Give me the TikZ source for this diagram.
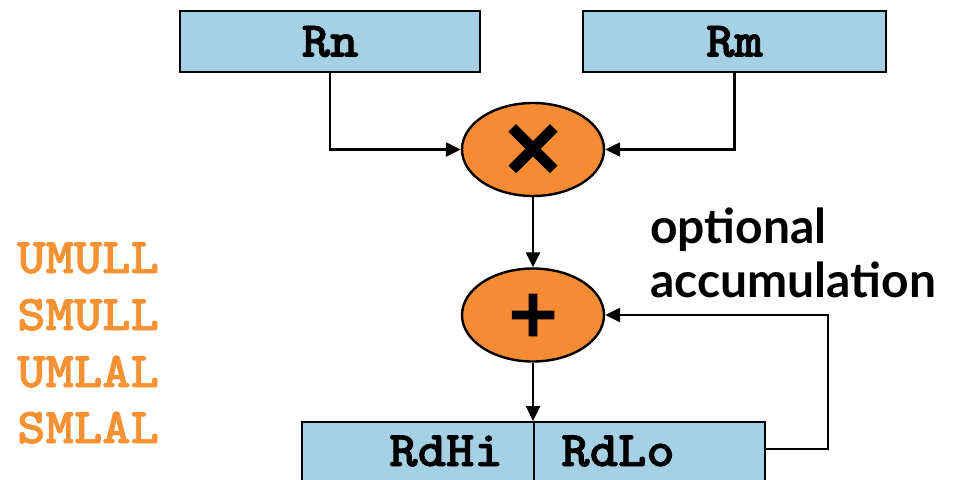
\documentclass[tikz,border=0pt]{standalone}
\usepackage{fontspec}
\setmainfont{Lato}
\newfontfamily\symbfont[FakeBold=1.8]{DejaVu Sans Bold}
\newfontfamily\regfnt[FakeBold=1.6,FakeStretch=1.08]{lmmonolt10-bold.otf}
\usetikzlibrary{arrows.meta,shapes.geometric}
\definecolor{regblue}{HTML}{A6D0E3}
\definecolor{opfill}{HTML}{F58C33}
\definecolor{insn}{HTML}{F79234}
\newcommand{\regfont}{\regfnt\fontsize{50}{50}\selectfont}
\tikzset{
  reg/.style={draw=black, line width=2.4pt, fill=regblue, inner sep=0pt,
    font=\regfont},
  op/.style={ellipse, draw=black, line width=2.4pt, fill=opfill, inner sep=0pt,
    minimum width=142pt, minimum height=93pt},
  flow/.style={draw=black, line width=2.4pt, -{Triangle[length=15pt,width=14pt]}},
  insnlbl/.style={anchor=base west, text=insn, inner sep=0pt, font=\regfont},
  reglbl/.style={anchor=base, inner sep=0pt, font=\regfont},
}
\begin{document}
\begin{tikzpicture}[x=1pt,y=-1pt]
\useasboundingbox (0,0) rectangle (955,479);
\begin{scope}
\clip (0,0) rectangle (955,479);

% source registers
\node[reg, minimum width=300pt, minimum height=61pt] (rn) at (330,41.5) {Rn};
\node[reg, minimum width=303pt, minimum height=61pt] (rm) at (734.5,41.5) {Rm};

% multiply and accumulate units
\node[op] (mul) at (533,149.5) {\symbfont\fontsize{80}{80}\selectfont ×};
\node[op] (add) at (533,315) {\symbfont\fontsize{66}{66}\selectfont +};

% destination register pair (runs off the bottom edge)
\node[reg, minimum width=232pt, minimum height=70pt, anchor=north west] (rdhi) at (301,421) {};
\node[reg, minimum width=231pt, minimum height=70pt, anchor=north west] (rdlo) at (533,421) {};
\node[reglbl] (rdhitxt) at (446,466) {RdHi};
\node[reglbl] (rdlotxt) at (618,466) {RdLo};

% data flow
\draw[flow] (rn.south) |- (mul.west);
\draw[flow] (rm.south) |- (mul.east);
\draw[flow] (mul.south) -- (add.north);
\draw[flow] (add.south) -- (add.south |- rdhi.north);
\coordinate (fb) at (828,449);
\draw[flow] (rdlo.east |- fb) -- (fb) |- (add.east);
\end{scope}

% label for the feedback path
\node[anchor=base west, inner sep=0pt, align=left,
  font=\bfseries\fontsize{48}{54}\selectfont] (acc) at (650,297)
  {optional\\accumulation};

% instruction names
\node[insnlbl] (umull) at (17,273) {UMULL};
\node[insnlbl] (smull) at (17,330) {SMULL};
\node[insnlbl] (umlal) at (17,387) {UMLAL};
\node[insnlbl] (smlal) at (17,443) {SMLAL};
\end{tikzpicture}
\end{document}
